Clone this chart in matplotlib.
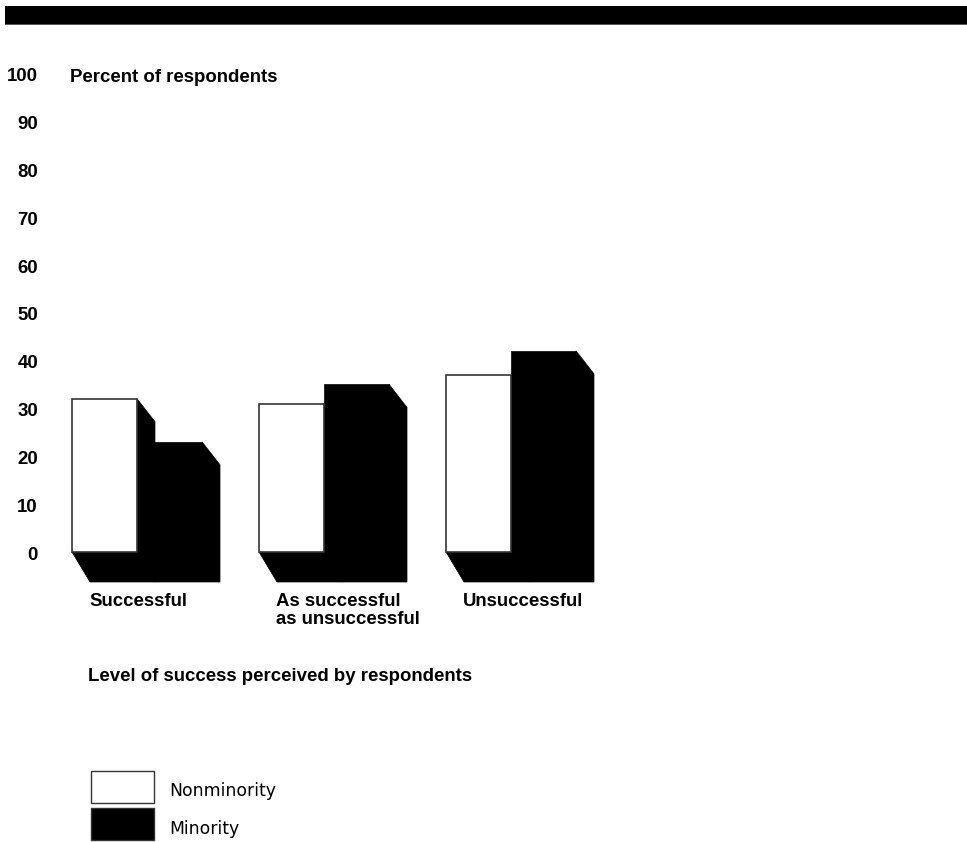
import matplotlib
matplotlib.use("Agg")
import matplotlib.pyplot as plt
from matplotlib.patches import Rectangle, Polygon

# Percent of respondents by perceived level of success
categories = ["Successful", "As successful\nas unsuccessful", "Unsuccessful"]
nonminority = [32, 31, 37]
minority = [23, 35, 42]
series_labels = ["Nonminority", "Minority"]
y_ticks = [0, 10, 20, 30, 40, 50, 60, 70, 80, 90, 100]

W, H = 967, 842
PX = 4.79      # pixels per percentage point
BASE = 552     # pixel row of the zero line
FS = 13.4

plt.rcParams["font.family"] = ["Liberation Sans", "DejaVu Sans"]

fig = plt.figure(figsize=(W / 100, H / 100), dpi=100)
ax = fig.add_axes([0, 0, 1, 1])
ax.set_xlim(0, W)
ax.set_ylim((BASE - H) / PX, BASE / PX)
ax.axis("off")


def fx(p):
    return p / W


def fy(p):
    return 1 - p / H


# heavy rule across the top
fig.patches.append(Rectangle((fx(5), fy(24)), 1, 18 / H, transform=fig.transFigure,
                             facecolor="black", edgecolor="none"))
fig.patches.append(Rectangle((fx(5), fy(25)), 1, 1.2 / H, transform=fig.transFigure,
                             facecolor="#555555", edgecolor="none"))

bar_w = 65
first_left = 72
group_step = 187
dx = 18
dy_top = 23 / PX
dy_bot = 30 / PX

lefts = [first_left + i * group_step for i in range(len(categories))]
lefts_min = [x + bar_w for x in lefts]


def extrude(x0, h):
    x1 = x0 + bar_w
    pts = [(x0, 0), (x0 + dx, -dy_bot), (x1 + dx, -dy_bot),
           (x1 + dx, h - dy_top), (x1, h), (x1, 0)]
    ax.add_patch(Polygon(pts, closed=True, facecolor="black", edgecolor="black",
                         linewidth=0.5, zorder=1))


for x0, h in zip(lefts, nonminority):
    extrude(x0, h)
for x0, h in zip(lefts_min, minority):
    extrude(x0, h)

ax.bar(lefts_min, minority, width=bar_w, align="edge", color="black",
       edgecolor="black", linewidth=0.5, zorder=2)
ax.bar(lefts, nonminority, width=bar_w, align="edge", color="white",
       edgecolor="#333333", linewidth=1.2, zorder=3)

# y tick labels
for v in y_ticks:
    ax.text(38, v - 8 / PX, str(v), ha="right", va="baseline",
            fontsize=FS, fontweight="bold")

ax.text(70, 100 - 9 / PX, "Percent of respondents", ha="left", va="baseline",
        fontsize=FS, fontweight="bold")

# category labels (baseline alignment follows the last line)
for x0, label in zip(lefts, categories):
    n_lines = label.count("\n") + 1
    base_px = 54 + (n_lines - 1) * 18
    ax.text(x0 + 17, -base_px / PX, label, ha="left", va="baseline",
            fontsize=FS, fontweight="bold", linespacing=1.05)

fig.text(fx(88), fy(681), "Level of success perceived by respondents",
         ha="left", va="baseline", fontsize=FS, fontweight="bold")

# legend
legend_colors = ["white", "black"]
for i, (lab, col) in enumerate(zip(series_labels, legend_colors)):
    top = 771 + i * 37
    fig.patches.append(Rectangle((fx(91), fy(top + 32)), 63 / W, 32 / H,
                                 transform=fig.transFigure, facecolor=col,
                                 edgecolor="#333333", linewidth=1.0))
    fig.text(fx(169), fy(top + 25 + i * 1), lab, ha="left", va="baseline",
             fontsize=12.4, family=["DejaVu Sans"])

fig.savefig("out.png", dpi=100)
